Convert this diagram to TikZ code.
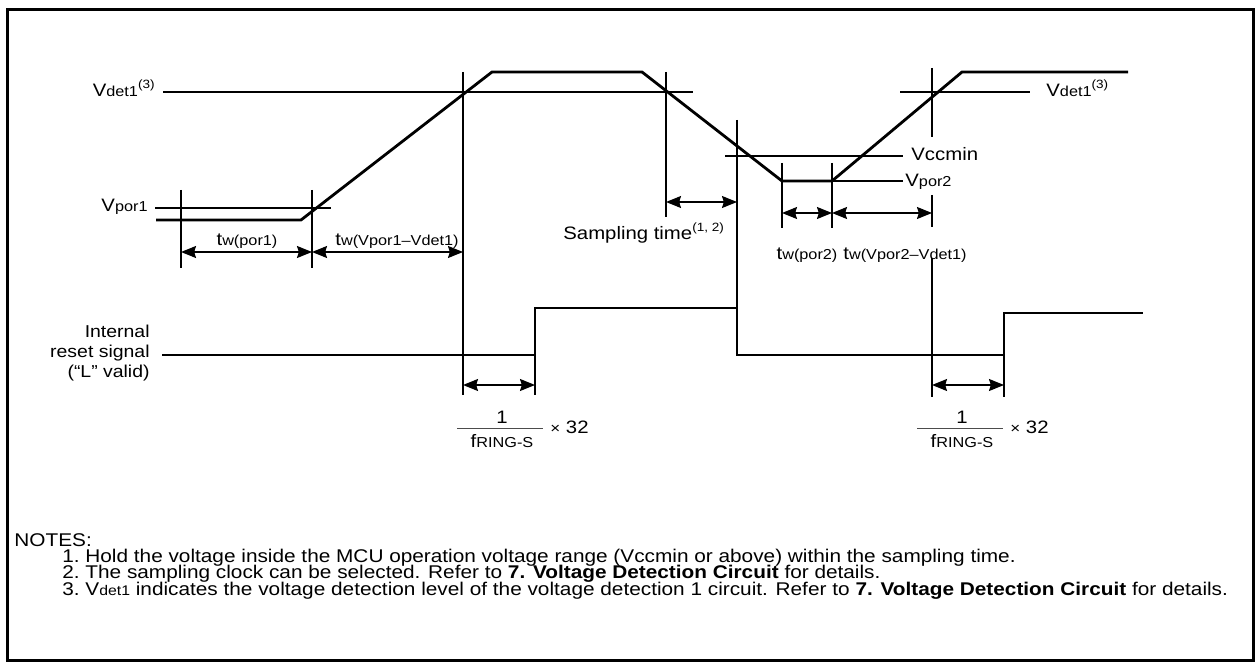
\documentclass[tikz,border=0pt]{standalone}
\usepackage{fontspec}
\setmainfont{Liberation Sans}[FakeStretch=1.13]
\usetikzlibrary{arrows.meta}
\newcommand{\smf}[1]{{\fontsize{7.2}{8}\selectfont #1}}
\newcommand{\msup}[1]{\raisebox{0.9ex}{\fontsize{6}{7}\selectfont #1}}
\begin{document}
\begin{tikzpicture}[x=0.5pt,y=-0.5pt,
  thin/.style={line width=0.65pt},
  wave/.style={line width=1.4pt,line join=miter},
  dimarrow/.style={thin,{Stealth[length=7.5pt,width=6pt,inset=0.9pt]}-{Stealth[length=7.5pt,width=6pt,inset=0.9pt]}},
  lbl/.style={inner sep=0pt,font=\fontsize{9}{10}\selectfont},
  fracbar/.style={line width=0.5pt,black!70},
  note/.style={inner sep=0pt,anchor=base west,font=\fontsize{9.2}{8.3}\selectfont}]
\useasboundingbox (0,0) rectangle (1257,663);
\draw[line width=1.5pt] (7,10) rectangle (1253,660);

% voltage waveform
\coordinate (w0) at (156,220); \coordinate (w1) at (301,220);
\coordinate (w2) at (492,72);  \coordinate (w3) at (642,72);
\coordinate (w4) at (782,181); \coordinate (w5) at (832,181);
\coordinate (w6) at (962,72);  \coordinate (w7) at (1128,72);

% reset waveform
\coordinate (r0) at (162,355); \coordinate (r1) at (535,355);
\coordinate (r2) at (535,308); \coordinate (r3) at (737,308);
\coordinate (r4) at (737,355); \coordinate (r5) at (1004,355);
\coordinate (r6) at (1004,313); \coordinate (r7) at (1143,313);

% reference levels
\coordinate (vd1a) at (163,92);  \coordinate (vd1b) at (693,92);
\coordinate (vd2a) at (900,92);  \coordinate (vd2b) at (1030,92);
\coordinate (vp1a) at (155,208); \coordinate (vp1b) at (331,208);
\coordinate (vcca) at (725,156); \coordinate (vccb) at (903,156);
\coordinate (vp2a) at (782,181); \coordinate (vp2b) at (903,181);
\draw[thin] (vd1a) -- (vd1b);
\draw[thin] (vd2a) -- (vd2b);
\draw[thin] (vp1a) -- (vp1b);
\draw[thin] (vcca) -- (vccb);
\draw[thin] (vp2a) -- (vp2b);

% vertical guide lines
\coordinate (g1t) at (463,72);  \coordinate (g1b) at (463,395);
\coordinate (g2t) at (666,72);  \coordinate (g2b) at (666,217);
\coordinate (g3t) at (737,120);
\coordinate (g4t) at (181,190); \coordinate (g4b) at (181,268);
\coordinate (g5t) at (312,190); \coordinate (g5b) at (312,268);
\coordinate (g6t) at (782,163); \coordinate (g6b) at (782,228);
\coordinate (g7t) at (832,163); \coordinate (g7b) at (832,228);
\coordinate (g8a) at (932,68);  \coordinate (g8b) at (932,137);
\coordinate (g8c) at (932,195); \coordinate (g8d) at (932,227);
\coordinate (g8e) at (932,258); \coordinate (g8f) at (932,397);
\coordinate (g9b) at (535,395);
\coordinate (g10b) at (1004,397);
\draw[thin] (g1t) -- (g1b);
\draw[thin] (g2t) -- (g2b);
\draw[thin] (g3t) -- (r4);
\draw[thin] (g4t) -- (g4b);
\draw[thin] (g5t) -- (g5b);
\draw[thin] (g6t) -- (g6b);
\draw[thin] (g7t) -- (g7b);
\draw[thin] (g8a) -- (g8b);
\draw[thin] (g8c) -- (g8d);
\draw[thin] (g8e) -- (g8f);
\draw[thin] (r1) -- (g9b);
\draw[thin] (r5) -- (g10b);

\draw[wave] (w0) -- (w1) -- (w2) -- (w3) -- (w4) -- (w5) -- (w6) -- (w7);
\draw[wave] (r0) -- (r1) -- (r2) -- (r3) -- (r4) -- (r5) -- (r6) -- (r7);

% dimension arrows
\coordinate (a1) at (181,252); \coordinate (a2) at (312,252); \coordinate (a3) at (463,252);
\coordinate (b1) at (666,202); \coordinate (b2) at (737,202);
\coordinate (c1) at (782,213); \coordinate (c2) at (832,213); \coordinate (c3) at (932,213);
\coordinate (d1) at (463,385); \coordinate (d2) at (535,385);
\coordinate (e1) at (932,385); \coordinate (e2) at (1004,385);
\draw[dimarrow] (a1) -- (a2);
\draw[dimarrow] (a2) -- (a3);
\draw[dimarrow] (b1) -- (b2);
\draw[dimarrow] (c1) -- (c2);
\draw[dimarrow] (c2) -- (c3);
\draw[dimarrow] (d1) -- (d2);
\draw[dimarrow] (e1) -- (e2);

% labels
\node[lbl,anchor=base east] (lvdet1) at (155,97) {V\smf{det1}\msup{(3)}};
\node[lbl,anchor=base west] (rvdet1) at (1046,97) {V\smf{det1}\msup{(3)}};
\node[lbl,anchor=base east] (lvpor1) at (148,212) {V\smf{por1}};
\node[lbl,anchor=base west] (lvccmin) at (911,161) {Vccmin};
\node[lbl,anchor=base west] (lvpor2) at (905,187) {V\smf{por2}};
\node[lbl,anchor=base] (ltw1) at (247,245) {t\smf{w(por1)}};
\node[lbl,anchor=base] (ltw2) at (397,245) {t\smf{w(Vpor1--Vdet1)}};
\node[lbl,anchor=base west] (lsamp) at (563,240) {Sampling time\msup{(1, 2)}};
\node[lbl,anchor=base] (ltw3) at (807,259) {t\smf{w(por2)}};
\node[lbl,anchor=base west] (ltw4) at (843,259) {t\smf{w(Vpor2--Vdet1)}};
\node[lbl,anchor=east,align=right,font=\fontsize{8.6}{10}\selectfont] (lreset) at (150,353) {Internal\\reset signal\\(“L” valid)};

% fractions
\node[lbl] (f1n) at (502,417) {1};
\draw[fracbar] (457,428) coordinate (f1a) -- (543,428) coordinate (f1b);
\node[lbl] (f1d) at (502,441) {f\smf{RING-S}};
\node[lbl,anchor=west] (f1x) at (550,427) {{\fontsize{7.5}{9}\selectfont ×} 32};
\node[lbl] (f2n) at (962,417) {1};
\draw[fracbar] (917,428) coordinate (f2a) -- (1003,428) coordinate (f2b);
\node[lbl] (f2d) at (962,441) {f\smf{RING-S}};
\node[lbl,anchor=west] (f2x) at (1010,427) {{\fontsize{7.5}{9}\selectfont ×} 32};

% notes
\node[note] (notes) at (14,546) {NOTES:};
\node[note] (n1) at (62,562) {\makebox[11.5pt][l]{1.}Hold the voltage inside the MCU operation voltage range (Vccmin or above) within the sampling time.};
\node[note] (n2) at (62,578) {\makebox[11.5pt][l]{2.}The sampling clock can be selected. Refer to \textbf{7. Voltage Detection Circuit} for details.};
\node[note] (n3) at (62,595) {\makebox[11.5pt][l]{3.}V{\fontsize{7}{8}\selectfont det1} indicates the voltage detection level of the voltage detection 1 circuit. Refer to \textbf{7. Voltage Detection Circuit} for details.};
\end{tikzpicture}
\end{document}
